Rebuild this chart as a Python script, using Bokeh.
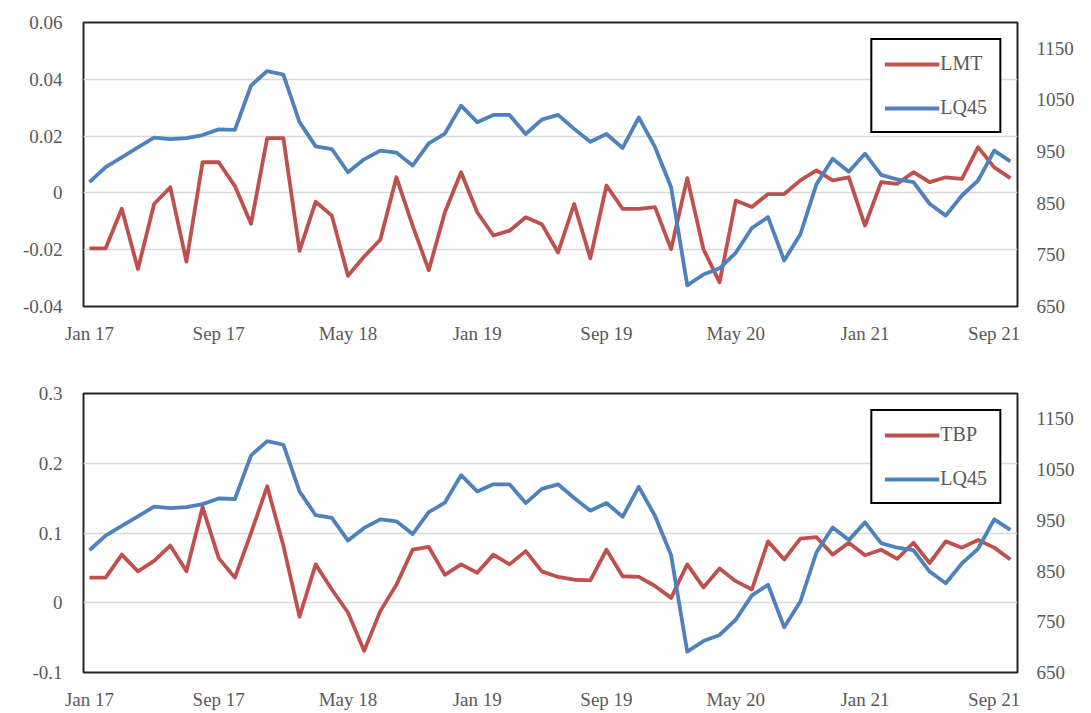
from bokeh.plotting import figure
from bokeh.models import (Range1d, LinearAxis, FixedTicker, NumeralTickFormatter,
                          Legend, LegendItem)
from bokeh.layouts import column
from bokeh.embed import file_html
from bokeh.resources import INLINE

# ---------------- data (monthly, Jan 2017 - Oct 2021) ----------------
tick_labels = ["Jan 17", "Sep 17", "May 18", "Jan 19", "Sep 19", "May 20", "Jan 21", "Sep 21"]
tick_step = 8  # months between labelled ticks

lq45 = [891, 920, 939, 958, 977, 974, 976, 982, 993, 992,
        1078, 1106, 1099, 1007, 960, 955, 910, 935, 952, 948,
        923, 966, 985, 1039, 1007, 1021, 1021, 984, 1012, 1021,
        994, 969, 984, 957, 1016, 959, 881, 691, 712, 724,
        754, 802, 823, 739, 790, 887, 936, 911, 946, 905,
        896, 891, 849, 826, 865, 894, 952, 931]

lmt = [-0.0195, -0.0195, -0.0056, -0.0268, -0.0039, 0.0020, -0.0242, 0.0108, 0.0108, 0.0024,
       -0.0109, 0.0193, 0.0193, -0.0204, -0.0031, -0.0080, -0.0292, -0.0224, -0.0165, 0.0055,
       -0.0115, -0.0272, -0.0068, 0.0073, -0.0068, -0.0150, -0.0133, -0.0086, -0.0110, -0.0210,
       -0.0039, -0.0230, 0.0026, -0.0056, -0.0056, -0.0050, -0.0198, 0.0052, -0.0198, -0.0315,
       -0.0027, -0.0050, -0.0004, -0.0004, 0.0044, 0.0079, 0.0044, 0.0055, -0.0115, 0.0038,
       0.0032, 0.0073, 0.0038, 0.0055, 0.0049, 0.0161, 0.0090, 0.0052]

tbp = [0.036, 0.036, 0.069, 0.045, 0.060, 0.082, 0.045, 0.137, 0.064, 0.036,
       0.100, 0.167, 0.082, -0.020, 0.055, 0.019, -0.014, -0.069, -0.012, 0.026,
       0.076, 0.080, 0.040, 0.055, 0.043, 0.069, 0.055, 0.074, 0.045, 0.037,
       0.033, 0.032, 0.076, 0.038, 0.037, 0.024, 0.007, 0.055, 0.022, 0.049,
       0.031, 0.019, 0.088, 0.062, 0.092, 0.094, 0.069, 0.086, 0.068, 0.076,
       0.063, 0.086, 0.057, 0.088, 0.079, 0.090, 0.079, 0.062]

lmt_ticks = [-0.04, -0.02, 0.0, 0.02, 0.04, 0.06]
tbp_ticks = [-0.1, 0.0, 0.1, 0.2, 0.3]
lq45_ticks = [650, 750, 850, 950, 1050, 1150]

RED = "#C0504D"
BLUE = "#4F81BD"
FONT = "Liberation Serif"
LABEL_COLOR = "#595959"


def make_panel(series, name, yticks, yfmt, height, top, bottom, right):
    x = list(range(len(series)))
    p = figure(width=1091, height=height, output_backend="svg", toolbar_location=None,
               x_range=Range1d(-0.37, len(series) - 1 + 0.44),
               y_range=Range1d(yticks[0], yticks[-1]),
               min_border_left=83, min_border_right=right,
               min_border_top=top, min_border_bottom=bottom)
    p.extra_y_ranges = {"r": Range1d(650, 1200)}
    p.background_fill_color = "white"
    p.border_fill_color = "white"
    p.outline_line_color = "#262626"
    p.outline_line_width = 2
    p.outline_line_alpha = 1.0

    # grid
    p.xgrid.visible = False
    p.ygrid.grid_line_color = "#D9D9D9"
    p.ygrid.grid_line_width = 1.5

    # axes
    ax = p.xaxis[0]
    ax.ticker = FixedTicker(ticks=[i * tick_step for i in range(len(tick_labels))])
    ax.major_label_overrides = {i * tick_step: lab for i, lab in enumerate(tick_labels)}
    ay = p.yaxis[0]
    ay.ticker = FixedTicker(ticks=yticks)
    ay.formatter = NumeralTickFormatter(format=yfmt)

    ar = LinearAxis(y_range_name="r", ticker=FixedTicker(ticks=lq45_ticks),
                    formatter=NumeralTickFormatter(format="0"))
    p.add_layout(ar, "right")

    for a in (ax, ay, ar):
        a.axis_line_color = None
        a.major_tick_line_color = None
        a.minor_tick_line_color = None
        a.major_tick_out = 0
        a.major_tick_in = 0
        a.major_label_text_font = FONT
        a.major_label_text_font_size = "19px"
        a.major_label_text_color = LABEL_COLOR
    ax.major_label_standoff = 16
    ay.major_label_standoff = 21
    ar.major_label_standoff = 19

    r1 = p.line(x, series, line_color=RED, line_width=3.8, line_join="round")
    r2 = p.line(x, lq45, line_color=BLUE, line_width=3.8, line_join="round", y_range_name="r")

    legend = Legend(items=[LegendItem(label=name, renderers=[r1]),
                           LegendItem(label="LQ45", renderers=[r2])],
                    location="top_right", margin=16)
    legend.border_line_color = "#000000"
    legend.border_line_width = 2
    legend.border_line_alpha = 1.0
    legend.background_fill_color = "white"
    legend.background_fill_alpha = 1.0
    legend.glyph_width = 55
    legend.glyph_height = 22
    legend.spacing = 21
    legend.padding = 12
    legend.label_standoff = 1
    legend.label_text_font = FONT
    legend.label_text_font_size = "20px"
    legend.label_text_color = LABEL_COLOR
    p.add_layout(legend)
    return p


p1 = make_panel(lmt, "LMT", lmt_ticks, "0.[00]", height=357, top=22, bottom=51, right=69)
p2 = make_panel(tbp, "TBP", tbp_ticks, "0.[0]", height=356, top=36, bottom=41, right=74)

page = column(p1, p2)
open("out.html", "w").write(file_html(page, INLINE))
